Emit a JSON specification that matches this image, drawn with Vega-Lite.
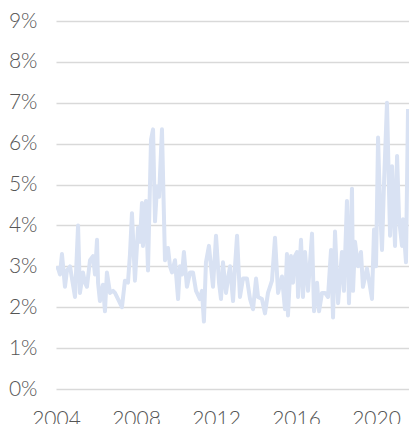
{
  "$schema": "https://vega.github.io/schema/vega-lite/v6.json",
  "width": 353,
  "height": 368,
  "autosize": {"type": "none"},
  "padding": {"left": 56, "top": 21, "right": 0, "bottom": 35},
  "background": "white",
  "config": {"view": {"stroke": null}},
  "data": {"values": [
    {"date": "2004-01-01", "rate": 2.95},
    {"date": "2004-02-07", "rate": 2.96},
    {"date": "2004-03-13", "rate": 2.8},
    {"date": "2004-04-19", "rate": 3.3},
    {"date": "2004-06-13", "rate": 2.5},
    {"date": "2004-07-19", "rate": 2.9},
    {"date": "2004-09-13", "rate": 3.0},
    {"date": "2004-10-19", "rate": 2.7},
    {"date": "2004-12-13", "rate": 2.25},
    {"date": "2005-02-07", "rate": 4.0},
    {"date": "2005-03-13", "rate": 2.35},
    {"date": "2005-05-07", "rate": 2.85},
    {"date": "2005-06-13", "rate": 2.6},
    {"date": "2005-07-19", "rate": 2.5},
    {"date": "2005-09-13", "rate": 3.15},
    {"date": "2005-11-07", "rate": 3.25},
    {"date": "2005-12-13", "rate": 2.8},
    {"date": "2006-01-19", "rate": 3.65},
    {"date": "2006-02-07", "rate": 2.6},
    {"date": "2006-03-13", "rate": 2.15},
    {"date": "2006-05-07", "rate": 2.55},
    {"date": "2006-06-13", "rate": 1.9},
    {"date": "2006-07-19", "rate": 2.85},
    {"date": "2006-09-13", "rate": 2.35},
    {"date": "2006-11-07", "rate": 2.4},
    {"date": "2006-12-13", "rate": 2.35},
    {"date": "2007-02-07", "rate": 2.2},
    {"date": "2007-04-19", "rate": 2.0},
    {"date": "2007-06-13", "rate": 2.65},
    {"date": "2007-08-07", "rate": 2.6},
    {"date": "2007-09-13", "rate": 3.3},
    {"date": "2007-10-19", "rate": 4.3},
    {"date": "2007-12-13", "rate": 2.65},
    {"date": "2008-02-07", "rate": 3.95},
    {"date": "2008-03-13", "rate": 3.6},
    {"date": "2008-04-19", "rate": 4.55},
    {"date": "2008-05-07", "rate": 3.5},
    {"date": "2008-07-01", "rate": 4.6},
    {"date": "2008-08-07", "rate": 2.9},
    {"date": "2008-10-01", "rate": 6.1},
    {"date": "2008-11-07", "rate": 6.35},
    {"date": "2008-12-13", "rate": 4.1},
    {"date": "2009-01-19", "rate": 4.95},
    {"date": "2009-02-25", "rate": 4.7},
    {"date": "2009-04-19", "rate": 6.35},
    {"date": "2009-06-13", "rate": 3.15},
    {"date": "2009-08-07", "rate": 3.45},
    {"date": "2009-09-13", "rate": 3.0},
    {"date": "2009-10-19", "rate": 2.85},
    {"date": "2009-12-13", "rate": 3.15},
    {"date": "2010-02-07", "rate": 2.2},
    {"date": "2010-03-13", "rate": 3.0},
    {"date": "2010-04-19", "rate": 2.8},
    {"date": "2010-05-25", "rate": 3.35},
    {"date": "2010-07-19", "rate": 2.5},
    {"date": "2010-09-13", "rate": 2.85},
    {"date": "2010-11-07", "rate": 2.85},
    {"date": "2011-01-01", "rate": 2.4},
    {"date": "2011-03-13", "rate": 2.2},
    {"date": "2011-04-19", "rate": 2.4},
    {"date": "2011-05-25", "rate": 1.65},
    {"date": "2011-07-01", "rate": 3.1},
    {"date": "2011-08-25", "rate": 3.5},
    {"date": "2011-10-01", "rate": 3.0},
    {"date": "2011-11-07", "rate": 2.5},
    {"date": "2012-01-01", "rate": 3.75},
    {"date": "2012-02-25", "rate": 2.6},
    {"date": "2012-04-01", "rate": 2.2},
    {"date": "2012-05-07", "rate": 3.1},
    {"date": "2012-07-01", "rate": 2.35},
    {"date": "2012-08-07", "rate": 2.7},
    {"date": "2012-09-13", "rate": 3.0},
    {"date": "2012-11-07", "rate": 2.15},
    {"date": "2012-12-13", "rate": 3.0},
    {"date": "2013-01-19", "rate": 3.75},
    {"date": "2013-03-13", "rate": 2.25},
    {"date": "2013-05-07", "rate": 2.7},
    {"date": "2013-07-19", "rate": 2.7},
    {"date": "2013-09-13", "rate": 2.2},
    {"date": "2013-11-07", "rate": 1.95},
    {"date": "2014-01-01", "rate": 2.7},
    {"date": "2014-02-07", "rate": 2.25},
    {"date": "2014-04-19", "rate": 2.2},
    {"date": "2014-06-13", "rate": 1.85},
    {"date": "2014-08-07", "rate": 2.35},
    {"date": "2014-10-19", "rate": 2.65},
    {"date": "2014-12-13", "rate": 3.7},
    {"date": "2015-02-07", "rate": 2.35},
    {"date": "2015-04-19", "rate": 2.75},
    {"date": "2015-06-13", "rate": 1.95},
    {"date": "2015-07-19", "rate": 3.3},
    {"date": "2015-08-07", "rate": 1.8},
    {"date": "2015-10-01", "rate": 3.25},
    {"date": "2015-11-07", "rate": 2.6},
    {"date": "2015-12-13", "rate": 3.25},
    {"date": "2016-01-19", "rate": 3.35},
    {"date": "2016-02-07", "rate": 2.25},
    {"date": "2016-04-01", "rate": 3.65},
    {"date": "2016-05-07", "rate": 2.25},
    {"date": "2016-06-13", "rate": 3.35},
    {"date": "2016-08-07", "rate": 2.4},
    {"date": "2016-10-19", "rate": 3.8},
    {"date": "2016-11-25", "rate": 1.9},
    {"date": "2017-01-19", "rate": 2.6},
    {"date": "2017-02-25", "rate": 1.9},
    {"date": "2017-04-19", "rate": 2.35},
    {"date": "2017-06-13", "rate": 2.35},
    {"date": "2017-08-07", "rate": 2.25},
    {"date": "2017-10-01", "rate": 3.4},
    {"date": "2017-11-07", "rate": 1.75},
    {"date": "2017-12-13", "rate": 3.85},
    {"date": "2018-02-07", "rate": 2.1},
    {"date": "2018-04-19", "rate": 3.35},
    {"date": "2018-05-25", "rate": 2.4},
    {"date": "2018-07-19", "rate": 4.6},
    {"date": "2018-08-25", "rate": 2.1},
    {"date": "2018-10-19", "rate": 4.9},
    {"date": "2018-11-07", "rate": 2.4},
    {"date": "2018-12-13", "rate": 3.6},
    {"date": "2019-02-07", "rate": 3.0},
    {"date": "2019-04-01", "rate": 3.35},
    {"date": "2019-05-07", "rate": 2.5},
    {"date": "2019-07-19", "rate": 2.95},
    {"date": "2019-09-13", "rate": 2.5},
    {"date": "2019-10-19", "rate": 2.2},
    {"date": "2019-11-25", "rate": 3.9},
    {"date": "2020-01-01", "rate": 3.0},
    {"date": "2020-02-07", "rate": 6.15},
    {"date": "2020-03-13", "rate": 4.5},
    {"date": "2020-04-19", "rate": 3.4},
    {"date": "2020-05-25", "rate": 5.0},
    {"date": "2020-07-19", "rate": 7.0},
    {"date": "2020-09-13", "rate": 3.75},
    {"date": "2020-10-19", "rate": 5.45},
    {"date": "2020-12-13", "rate": 3.5},
    {"date": "2021-01-19", "rate": 5.7},
    {"date": "2021-02-25", "rate": 4.15},
    {"date": "2021-04-19", "rate": 3.5},
    {"date": "2021-05-07", "rate": 4.15},
    {"date": "2021-07-01", "rate": 3.1},
    {"date": "2021-08-07", "rate": 6.85}
  ]},
  "mark": {"type": "line", "color": "#d9e2f3", "strokeWidth": 4, "strokeJoin": "round", "clip": true},
  "encoding": {
    "x": {
      "field": "date",
      "type": "temporal",
      "scale": {"domain": ["2004-01-01", "2021-08-25"], "nice": false},
      "axis": {
        "title": null,
        "values": ["2004-01-01", "2008-01-01", "2012-01-01", "2016-01-01", "2020-01-01"],
        "format": "%Y",
        "domain": false,
        "ticks": false,
        "grid": false,
        "labelFont": "Lato",
        "labelFontWeight": 300,
        "labelFontSize": 21,
        "labelColor": "#555555",
        "labelPadding": 19,
        "labelFlush": false,
        "labelOverlap": false
      }
    },
    "y": {
      "field": "rate",
      "type": "quantitative",
      "scale": {"domain": [0, 9], "nice": false},
      "axis": {
        "title": null,
        "values": [0, 1, 2, 3, 4, 5, 6, 7, 8, 9],
        "labelExpr": "datum.value + '%'",
        "domain": false,
        "ticks": false,
        "gridColor": "#d9d9d9",
        "gridWidth": 1.5,
        "labelFont": "Lato",
        "labelFontWeight": 300,
        "labelFontSize": 21,
        "labelColor": "#555555",
        "labelPadding": 19
      }
    }
  }
}
